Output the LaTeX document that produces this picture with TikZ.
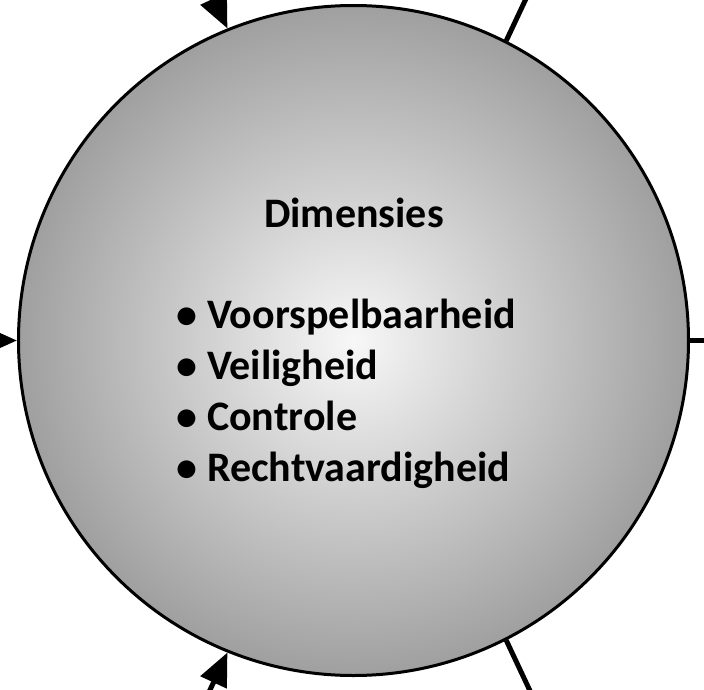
\documentclass[tikz,border=0pt]{standalone}
\usepackage{fontspec}
\setmainfont{Carlito}
\usetikzlibrary{arrows.meta}

\pgfdeclareradialshading{dimshade}{\pgfpoint{0bp}{0bp}}{color(0bp)=(black!3); color(29bp)=(black!43); color(50bp)=(black!43)}

\begin{document}
\begin{tikzpicture}[x=1pt,y=1pt,
  font=\bfseries\fontsize{42}{51}\selectfont,
  wheel/.style={draw,circle,line width=3pt,minimum size=670pt,inner sep=0pt,
    shading=dimshade},
  spoke/.style={line width=5pt},
  inarrow/.style={line width=5pt,-{Triangle[length=33pt,width=28pt]}},
  item/.style={anchor=base west,inner sep=0pt}]

%frame of the picture
    \useasboundingbox (-353.5,-348.5) rectangle (350.5,340.5);
    \clip (-353.5,-348.5) rectangle (350.5,340.5);

%central circle
    \node[wheel] (dim) at (0,0) {};

%spokes going out and arrows coming in
    \foreach \a [count=\i] in {0,63.4,-63.4} {
    \coordinate (out\i) at (\a:430);
    \draw[spoke] (dim.\a) -- (out\i); }
    \foreach \a [count=\i] in {180,112.7,-112.7} {
    \coordinate (in\i) at (\a:440);
    \draw[inarrow] (in\i) -- (dim.\a); }

%texts
    \node[anchor=base,inner sep=0pt] (title) at (0.5,113.5) {Dimensies};
    \foreach \txt [count=\i] in {Voorspelbaarheid,Veiligheid,Controle,Rechtvaardigheid}
    \node[item] (it\i) at (-177,{12.5-51*(\i-1)}) {• \txt};

\end{tikzpicture}
\end{document}
